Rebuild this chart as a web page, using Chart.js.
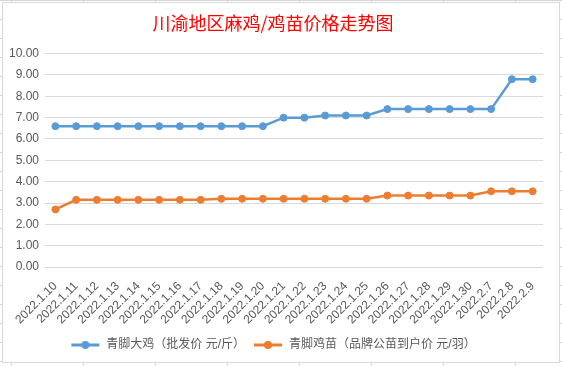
<!DOCTYPE html>
<html>
<head>
<meta charset="utf-8">
<script src="https://cdn.jsdelivr.net/npm/chart.js@4/dist/chart.umd.min.js"></script>
<style>
  html, body { margin: 0; padding: 0; }
  body {
    width: 562px; height: 366px; overflow: hidden; position: relative;
    background-color: #ffffff;
    background-image: linear-gradient(to right, #d4d4d4 1px, transparent 1px),
                      linear-gradient(to bottom, #d4d4d4 1px, transparent 1px);
    background-size: 72px 19px, 72px 19px;
    background-position: 11px 0px, 0px 0px;
  }
  #box {
    position: absolute; left: 2px; top: 2px; width: 556px; height: 359px;
    border: 1px solid #d9d9d9; background: #ffffff;
  }
  #c { display: block; }
</style>
</head>
<body>
<div id="box"><canvas id="c" width="556" height="359"></canvas></div>
<script>
const categories = ["2022.1.10","2022.1.11","2022.1.12","2022.1.13","2022.1.14","2022.1.15","2022.1.16","2022.1.17","2022.1.18","2022.1.19","2022.1.20","2022.1.21","2022.1.22","2022.1.23","2022.1.24","2022.1.25","2022.1.26","2022.1.27","2022.1.28","2022.1.29","2022.1.30","2022.2.7","2022.2.8","2022.2.9"];
const broilerPrice = [6.6,6.6,6.6,6.6,6.6,6.6,6.6,6.6,6.6,6.6,6.6,7.0,7.0,7.1,7.1,7.1,7.4,7.4,7.4,7.4,7.4,7.4,8.8,8.8];
const chickPrice = [2.7,3.15,3.15,3.15,3.15,3.15,3.15,3.15,3.2,3.2,3.2,3.2,3.2,3.2,3.2,3.2,3.35,3.35,3.35,3.35,3.35,3.55,3.55,3.55];
const seriesNames = ["青脚大鸡（批发价 元/斤）","青脚鸡苗（品牌公苗到户价 元/羽）"];
const yTicks = [0,1,2,3,4,5,6,7,8,9,10];
const titleText = "川渝地区麻鸡/鸡苗价格走势图";

const BLUE = "#5B9BD5", ORANGE = "#ED7D31";
const FONT = "'Liberation Sans', 'Noto Sans CJK SC', sans-serif";

function legendIcon(color) {
  const cv = document.createElement('canvas');
  cv.width = 30; cv.height = 10;
  const x = cv.getContext('2d');
  x.strokeStyle = color; x.lineWidth = 3;
  x.beginPath(); x.moveTo(1, 5); x.lineTo(29, 5); x.stroke();
  x.fillStyle = color;
  x.beginPath(); x.arc(15, 5, 4, 0, Math.PI * 2); x.fill();
  return cv;
}
const icons = [legendIcon(BLUE), legendIcon(ORANGE)];

new Chart(document.getElementById('c'), {
  type: 'line',
  data: {
    labels: categories,
    datasets: [
      { label: seriesNames[0], data: broilerPrice, borderColor: BLUE, backgroundColor: BLUE,
        borderWidth: 2.5, pointRadius: 3.5, pointBorderWidth: 1, pointBackgroundColor: BLUE, pointBorderColor: BLUE, tension: 0 },
      { label: seriesNames[1], data: chickPrice, borderColor: ORANGE, backgroundColor: ORANGE,
        borderWidth: 2.5, pointRadius: 3.5, pointBorderWidth: 1, pointBackgroundColor: ORANGE, pointBorderColor: ORANGE, tension: 0 }
    ]
  },
  options: {
    responsive: false,
    animation: false,
    layout: { padding: { left: 0, right: 16, top: 0, bottom: 1 } },
    plugins: {
      title: {
        display: true, text: titleText, color: '#FF0000',
        font: { family: "'Noto Sans CJK SC', sans-serif", size: 18, weight: 'normal' },
        padding: { top: 9, bottom: 20 }
      },
      legend: {
        display: true, position: 'bottom',
        labels: {
          color: '#595959', font: { family: FONT, size: 12 },
          usePointStyle: true, pointStyleWidth: 30, padding: 8,
          generateLabels: (chart) => {
            const items = Chart.defaults.plugins.legend.labels.generateLabels(chart);
            items.forEach((it, i) => { it.pointStyle = icons[i]; });
            return items;
          }
        }
      },
      tooltip: { enabled: false }
    },
    scales: {
      x: {
        offset: true,
        grid: { display: false, offset: true },
        border: { display: false },
        ticks: { color: '#595959', font: { family: FONT, size: 12 }, minRotation: 45, maxRotation: 45, autoSkip: false, padding: 4 }
      },
      y: {
        min: 0, max: 10,
        afterBuildTicks: (s) => { s.ticks = yTicks.map(v => ({ value: v })); },
        afterFit: (s) => { s.width = 42; },
        grid: { color: '#D9D9D9', lineWidth: 1, drawTicks: false },
        border: { display: false },
        ticks: { color: '#595959', font: { family: FONT, size: 12 }, padding: 6,
                 callback: (v) => Number(v).toFixed(2) }
      }
    }
  }
});
</script>
</body>
</html>
